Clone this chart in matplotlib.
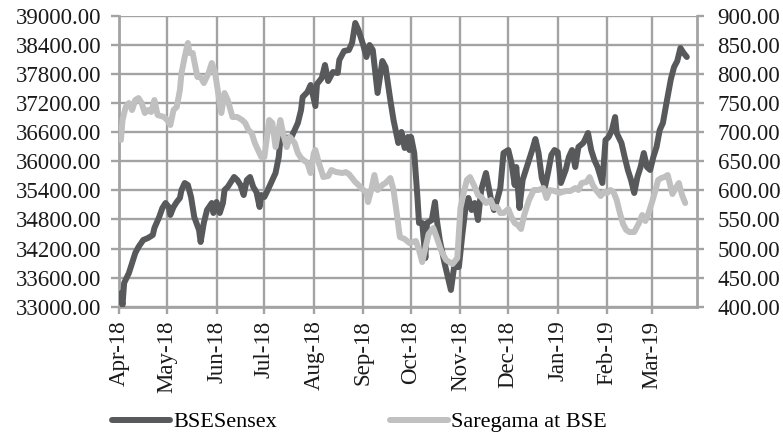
import matplotlib
matplotlib.use("Agg")
import matplotlib.pyplot as plt
import matplotlib.dates as mdates
import numpy as np
import pandas as pd

# ---------------- data ----------------
sensex_dates = [
    "2018-04-02", "2018-04-03", "2018-04-04", "2018-04-07", "2018-04-09", "2018-04-11", "2018-04-13",
    "2018-04-16", "2018-04-19", "2018-04-22", "2018-04-23", "2018-04-26", "2018-04-28", "2018-04-30",
    "2018-05-02", "2018-05-03", "2018-05-05", "2018-05-07", "2018-05-09", "2018-05-10", "2018-05-12",
    "2018-05-14", "2018-05-16", "2018-05-18", "2018-05-21", "2018-05-22", "2018-05-24", "2018-05-26",
    "2018-05-29", "2018-05-30", "2018-06-01", "2018-06-03", "2018-06-05", "2018-06-06", "2018-06-08",
    "2018-06-12", "2018-06-14", "2018-06-16", "2018-06-18", "2018-06-20", "2018-06-22", "2018-06-24",
    "2018-06-26", "2018-06-28", "2018-06-29", "2018-07-01", "2018-07-04", "2018-07-06", "2018-07-08",
    "2018-07-10", "2018-07-11", "2018-07-13", "2018-07-16", "2018-07-18", "2018-07-20", "2018-07-22",
    "2018-07-24", "2018-07-25", "2018-07-28", "2018-07-30", "2018-08-02", "2018-08-03", "2018-08-06",
    "2018-08-08", "2018-08-10", "2018-08-13", "2018-08-16", "2018-08-17", "2018-08-20", "2018-08-23",
    "2018-08-25", "2018-08-27", "2018-08-29", "2018-09-01", "2018-09-03", "2018-09-05", "2018-09-07",
    "2018-09-10", "2018-09-13", "2018-09-15", "2018-09-18", "2018-09-20", "2018-09-23", "2018-09-25",
    "2018-09-27", "2018-09-29", "2018-09-30", "2018-10-01", "2018-10-03", "2018-10-05", "2018-10-06",
    "2018-10-08", "2018-10-10", "2018-10-11", "2018-10-14", "2018-10-16", "2018-10-17", "2018-10-19",
    "2018-10-22", "2018-10-26", "2018-10-28", "2018-10-31", "2018-11-02", "2018-11-04", "2018-11-06",
    "2018-11-08", "2018-11-10", "2018-11-12", "2018-11-14", "2018-11-17", "2018-11-20", "2018-11-22",
    "2018-11-24", "2018-11-26", "2018-11-28", "2018-12-01", "2018-12-03", "2018-12-05", "2018-12-06",
    "2018-12-08", "2018-12-10", "2018-12-14", "2018-12-16", "2018-12-18", "2018-12-20", "2018-12-22",
    "2018-12-24", "2018-12-26", "2018-12-28", "2018-12-30", "2019-01-01", "2019-01-03", "2019-01-06",
    "2019-01-08", "2019-01-10", "2019-01-12", "2019-01-14", "2019-01-17", "2019-01-18", "2019-01-20",
    "2019-01-22", "2019-01-24", "2019-01-26", "2019-01-29", "2019-01-31", "2019-02-02", "2019-02-04",
    "2019-02-06", "2019-02-07", "2019-02-10", "2019-02-12", "2019-02-14", "2019-02-16", "2019-02-18",
    "2019-02-20", "2019-02-22", "2019-02-24", "2019-02-26", "2019-02-28", "2019-03-02", "2019-03-04",
    "2019-03-06", "2019-03-08", "2019-03-10", "2019-03-13", "2019-03-15", "2019-03-17", "2019-03-19",
    "2019-03-21", "2019-03-23",
]
sensex_values = [
    33277, 33035, 33489, 33695, 33902, 34108, 34232,
    34377, 34418, 34480, 34624, 34851, 35037, 35140,
    35058, 34893, 35058, 35161, 35244, 35409, 35553,
    35512, 35264, 34851, 34583, 34335, 34728, 34996,
    35140, 34934, 35161, 34934, 35140, 35409, 35471,
    35677, 35615, 35512, 35305, 35615, 35677, 35471,
    35367, 35058, 35305, 35264, 35471, 35615, 35760,
    36090, 36441, 36503, 36482, 36503, 36647, 36792,
    37060, 37328, 37431, 37576, 37142, 37596, 37720,
    37989, 37658, 37844, 37823, 38092, 38278, 38298,
    38443, 38856, 38711, 38401, 38154, 38401, 38298,
    37411, 38071, 37947, 37266, 36854, 36379, 36606,
    36276, 36503, 36234, 36503, 36172, 35264, 34728,
    34728, 34005, 34728, 34789, 35161, 34831, 34377,
    33902, 33345, 33819, 33819, 34439, 34996, 35244,
    34996, 35140, 34789, 35409, 35760, 35244, 34996,
    35202, 35450, 36172, 36234, 35966, 35512, 35883,
    35037, 35615, 36028, 36234, 36461, 36172, 35656,
    35471, 35780, 36131, 36234, 36193, 35553, 35822,
    36090, 36234, 35883, 36296, 36379, 36441, 36585,
    36234, 36028, 35883, 35553, 36441, 36503, 36647,
    36915, 36585, 36379, 36090, 35822, 35615, 35347,
    35677, 35883, 36172, 35883, 35822, 36090, 36296,
    36647, 36792, 37163, 37700, 37947, 38071, 38340,
    38236, 38154,
]

saregama_dates = [
    "2018-04-02", "2018-04-03", "2018-04-05", "2018-04-07", "2018-04-09", "2018-04-11", "2018-04-13",
    "2018-04-15", "2018-04-17", "2018-04-19", "2018-04-21", "2018-04-23", "2018-04-25", "2018-04-29",
    "2018-05-01", "2018-05-03", "2018-05-05", "2018-05-07", "2018-05-09", "2018-05-10", "2018-05-12",
    "2018-05-14", "2018-05-15", "2018-05-17", "2018-05-20", "2018-05-22", "2018-05-24", "2018-05-27",
    "2018-05-29", "2018-05-31", "2018-06-02", "2018-06-04", "2018-06-06", "2018-06-08", "2018-06-11",
    "2018-06-14", "2018-06-17", "2018-06-19", "2018-06-21", "2018-06-23", "2018-06-25", "2018-06-27",
    "2018-06-29", "2018-07-01", "2018-07-04", "2018-07-06", "2018-07-08", "2018-07-11", "2018-07-13",
    "2018-07-15", "2018-07-17", "2018-07-20", "2018-07-22", "2018-07-24", "2018-07-28", "2018-07-30",
    "2018-08-01", "2018-08-02", "2018-08-04", "2018-08-07", "2018-08-10", "2018-08-12", "2018-08-15",
    "2018-08-19", "2018-08-21", "2018-08-23", "2018-08-25", "2018-08-27", "2018-08-29", "2018-09-01",
    "2018-09-03", "2018-09-04", "2018-09-06", "2018-09-08", "2018-09-10", "2018-09-13", "2018-09-15",
    "2018-09-18", "2018-09-20", "2018-09-22", "2018-09-24", "2018-09-27", "2018-09-30", "2018-10-04",
    "2018-10-06", "2018-10-08", "2018-10-10", "2018-10-12", "2018-10-15", "2018-10-17", "2018-10-20",
    "2018-10-23", "2018-10-27", "2018-10-30", "2018-11-01", "2018-11-03", "2018-11-05", "2018-11-07",
    "2018-11-10", "2018-11-12", "2018-11-14", "2018-11-17", "2018-11-20", "2018-11-22", "2018-11-24",
    "2018-11-26", "2018-11-28", "2018-12-01", "2018-12-03", "2018-12-05", "2018-12-07", "2018-12-09",
    "2018-12-11", "2018-12-14", "2018-12-17", "2018-12-20", "2018-12-23", "2018-12-25", "2018-12-27",
    "2018-12-30", "2019-01-02", "2019-01-06", "2019-01-09", "2019-01-12", "2019-01-14", "2019-01-16",
    "2019-01-19", "2019-01-21", "2019-01-23", "2019-01-25", "2019-01-28", "2019-01-30", "2019-02-01",
    "2019-02-03", "2019-02-05", "2019-02-07", "2019-02-09", "2019-02-11", "2019-02-13", "2019-02-15",
    "2019-02-18", "2019-02-21", "2019-02-23", "2019-02-25", "2019-02-27", "2019-03-01", "2019-03-03",
    "2019-03-05", "2019-03-07", "2019-03-09", "2019-03-11", "2019-03-14", "2019-03-16", "2019-03-18",
    "2019-03-20", "2019-03-22",
]
saregama_values = [
    686.7, 721.1, 743.5, 750.3, 738.3, 755.5, 758.9,
    750.3, 733.1, 738.3, 734.9, 755.5, 729.7, 726.3,
    721.1, 712.5, 738.3, 743.5, 772.7, 801.9, 829.5,
    853.6, 836.4, 836.4, 795.1, 795.1, 784.7, 801.9,
    819.1, 803.7, 767.5, 733.1, 767.5, 755.5, 726.3,
    726.3, 721.1, 715.9, 703.9, 698.7, 681.5, 669.5,
    657.5, 657.5, 721.1, 715.9, 674.6, 721.1, 695.3,
    674.6, 691.9, 681.5, 664.3, 655.7, 647.1, 629.9,
    664.3, 669.5, 648.8, 623.0, 624.8, 635.1, 631.6,
    629.9, 631.6, 628.2, 621.3, 614.4, 609.3, 600.7,
    597.2, 580.0, 600.7, 626.5, 600.7, 609.3, 612.7,
    621.3, 600.7, 561.1, 519.8, 516.4, 509.5, 513.0,
    497.5, 476.8, 500.9, 525.0, 535.3, 519.8, 495.8,
    480.3, 473.4, 483.7, 569.7, 595.5, 617.9, 623.0,
    605.8, 592.1, 588.6, 578.3, 583.5, 569.7, 571.4,
    561.1, 561.1, 568.0, 554.2, 543.9, 540.5, 533.6,
    557.7, 583.5, 600.7, 600.7, 604.1, 586.9, 600.7,
    599.0, 595.5, 599.0, 599.0, 604.1, 600.7, 612.7,
    614.4, 623.0, 609.3, 600.7, 590.4, 597.2, 595.5,
    600.7, 597.2, 583.5, 561.1, 542.2, 531.9, 528.4,
    528.4, 543.9, 557.7, 547.4, 561.1, 578.3, 597.2,
    617.9, 621.3, 623.0, 626.5, 593.8, 604.1, 612.7,
    592.1, 578.3,
]

series_names = ["BSESensex", "Saregama at BSE"]
left_ticks = np.arange(33000, 39001, 600)
right_ticks = np.arange(400, 901, 50)

# ---------------- style ----------------
plt.rcParams["font.family"] = ["Liberation Serif", "DejaVu Serif"]
FS = 16.5
GRID = "#a3a3a3"
DARK = "#58595b"
LIGHT = "#c0c0c0"
TXT = "#1a1a1a"

fig = plt.figure(figsize=(7.83, 4.42), dpi=100)
ax = fig.add_axes([0.1524, 0.3061, 0.7374, 0.6577])
ax2 = ax.twinx()

sd = pd.to_datetime(sensex_dates)
gd = pd.to_datetime(saregama_dates)

l1, = ax.plot(sd, sensex_values, color=DARK, lw=4.3, solid_joinstyle="round",
              solid_capstyle="round", label=series_names[0], zorder=3)
l2, = ax2.plot(gd, saregama_values, color=LIGHT, lw=4.3, solid_joinstyle="round",
               solid_capstyle="round", label=series_names[1], zorder=3)

ax.set_ylim(33000, 39000)
ax2.set_ylim(400, 900)
ax.set_yticks(left_ticks)
ax2.set_yticks(right_ticks)
ax.set_yticklabels([f"{v:.2f}" for v in left_ticks])
ax2.set_yticklabels([f"{v:.2f}" for v in right_ticks])

x0 = pd.Timestamp("2018-04-01")
ax.set_xlim(mdates.date2num(x0), mdates.date2num(x0) + 362.2)
ax.xaxis.set_major_locator(mdates.MonthLocator())
ax.xaxis.set_major_formatter(mdates.DateFormatter("%b-%y"))
for lab in ax.get_xticklabels():
    lab.set_rotation(90)

ax.grid(True, color=GRID, lw=1.7, zorder=0)
ax.set_axisbelow(True)

for a in (ax, ax2):
    for s in a.spines.values():
        s.set_visible(False)
ax.spines["left"].set_visible(True)
ax.spines["bottom"].set_visible(True)
ax2.spines["right"].set_visible(True)
for s in (ax.spines["left"], ax.spines["bottom"], ax2.spines["right"]):
    s.set_color(GRID)
    s.set_linewidth(2.0)

ax.tick_params(axis="y", direction="out", length=6, width=1.7, color=GRID,
               labelsize=FS, pad=7, labelcolor=TXT)
ax2.tick_params(axis="y", direction="out", length=5, width=1.7, color=GRID,
                labelsize=FS, pad=10, labelcolor=TXT)
ax.tick_params(axis="x", direction="out", length=5, width=1.7, color=GRID,
               labelsize=FS, pad=5, labelcolor=TXT)

fig.legend(handles=[l1, l2], loc="center", bbox_to_anchor=(0.459, 0.045), ncol=2,
           frameon=False, fontsize=16, handlelength=2.6, handletextpad=0.15,
           columnspacing=5.1, borderaxespad=0)

fig.savefig("out.png", dpi=100)
